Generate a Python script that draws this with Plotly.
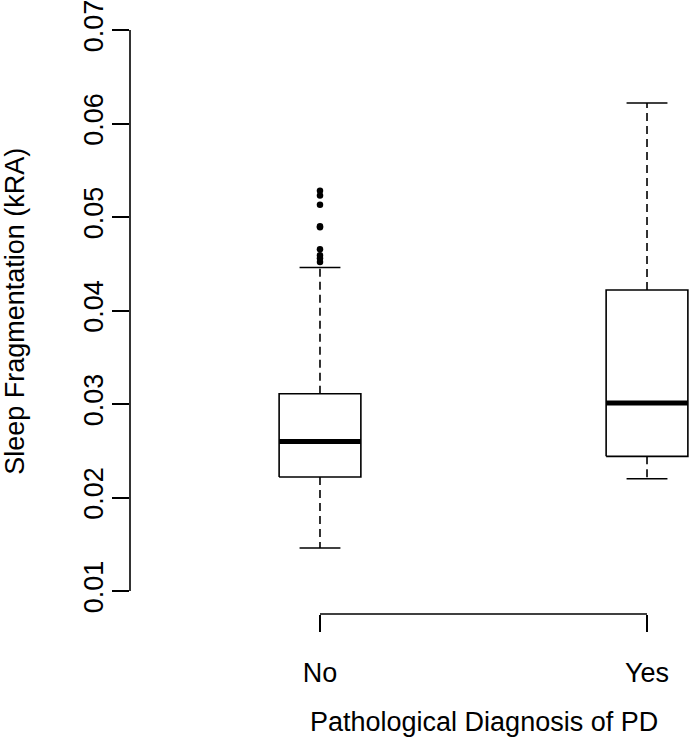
import plotly.graph_objects as go

# ---- data ----
groups = ["No", "Yes"]
group_pos = [1, 2]
q1 = [0.0222, 0.0244]
median = [0.0260, 0.0301]
q3 = [0.0311, 0.0422]
lower_whisker = [0.0146, 0.0220]
upper_whisker = [0.0446, 0.0622]
outliers_no = [0.0528, 0.0523, 0.0513, 0.0490, 0.0489, 0.04655, 0.0459, 0.0456, 0.0452]
outliers_yes = []
y_ticks = [0.01, 0.02, 0.03, 0.04, 0.05, 0.06, 0.07]

FONT = "Liberation Sans, Arial, Helvetica, sans-serif"
FS_TICK = 27
FS_TITLE = 27
BOX_HALF = 0.125
CAP_HALF = BOX_HALF / 2
LW = 1.6

fig = go.Figure()
outliers = [outliers_no, outliers_yes]
for i, xp in enumerate(group_pos):
    # box
    fig.add_trace(go.Scatter(
        x=[xp - BOX_HALF, xp + BOX_HALF, xp + BOX_HALF, xp - BOX_HALF, xp - BOX_HALF],
        y=[q1[i], q1[i], q3[i], q3[i], q1[i]],
        mode="lines", line=dict(color="black", width=LW),
        fill="toself", fillcolor="white", hoverinfo="skip"))
    # median
    fig.add_trace(go.Scatter(
        x=[xp - BOX_HALF, xp + BOX_HALF], y=[median[i], median[i]],
        mode="lines", line=dict(color="black", width=5), hoverinfo="skip"))
    # whiskers (dashed)
    fig.add_trace(go.Scatter(
        x=[xp, xp, None, xp, xp],
        y=[q3[i], upper_whisker[i], None, q1[i], lower_whisker[i]],
        mode="lines", line=dict(color="black", width=LW, dash="8px,5px"),
        hoverinfo="skip"))
    # caps
    fig.add_trace(go.Scatter(
        x=[xp - CAP_HALF, xp + CAP_HALF, None, xp - CAP_HALF, xp + CAP_HALF],
        y=[upper_whisker[i], upper_whisker[i], None, lower_whisker[i], lower_whisker[i]],
        mode="lines", line=dict(color="black", width=LW), hoverinfo="skip"))
    # outliers
    if outliers[i]:
        fig.add_trace(go.Scatter(
            x=[xp] * len(outliers[i]), y=outliers[i], mode="markers",
            marker=dict(color="black", size=6.5), hoverinfo="skip"))

# axis lines spanning only the tick range (R style)
fig.add_shape(type="line", xref="paper", yref="y", x0=0, x1=0,
              y0=min(y_ticks), y1=max(y_ticks), line=dict(color="black", width=LW))
fig.add_shape(type="line", xref="x", yref="paper", x0=min(group_pos), x1=max(group_pos),
              y0=0, y1=0, line=dict(color="black", width=LW))

fig.update_layout(
    width=694, height=750,
    margin=dict(l=130, r=0, t=30, b=136, autoexpand=False),
    paper_bgcolor="white", plot_bgcolor="white",
    showlegend=False,
    font=dict(family=FONT, size=FS_TICK, color="black"),
    xaxis=dict(range=[0.419, 2.1437], tickmode="array", tickvals=group_pos, ticktext=groups,
               ticks="outside", ticklen=17, tickwidth=LW, tickcolor="black",
               showline=False, showgrid=False, zeroline=False, automargin=False,
               ticklabelstandoff=18, ticklabeloverflow="allow",
               tickfont=dict(family=FONT, size=FS_TICK)),
    yaxis=dict(range=[0.00754, 0.07], tickmode="array", tickvals=y_ticks,
               ticktext=[f"{v:.2f}" for v in y_ticks],
               ticks="outside", ticklen=17, tickwidth=LW, tickcolor="black",
               tickangle=-90, showline=False, showgrid=False, zeroline=False, automargin=False,
               ticklabelstandoff=-2, ticklabeloverflow="allow",
               tickfont=dict(family=FONT, size=FS_TICK)),
    annotations=[
        dict(text="Pathological Diagnosis of PD", xref="paper", yref="paper",
             x=0.6277, y=-0.185, xanchor="center", yanchor="middle", showarrow=False,
             font=dict(family=FONT, size=FS_TITLE, color="black")),
        dict(text="Sleep Fragmentation (kRA)", xref="paper", yref="paper",
             x=-0.204, y=0.519, xanchor="center", yanchor="middle", showarrow=False,
             textangle=-90, font=dict(family=FONT, size=FS_TITLE, color="black")),
    ],
)

# remove the browser's default 8px body margin so the figure sits at the page corner
fig.write_html("out.html", config={"displayModeBar": False},
               post_script="document.body.style.margin='0px';")
